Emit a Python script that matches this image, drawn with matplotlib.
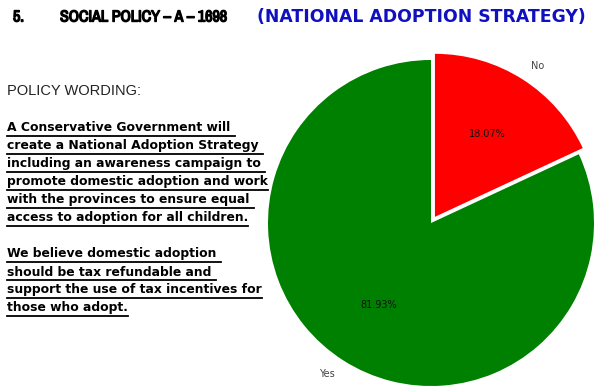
import matplotlib
matplotlib.use("Agg")
import matplotlib.pyplot as plt
from matplotlib.lines import Line2D
import matplotlib.patheffects as pe

categories = ["Yes", "No"]
values = [81.93, 18.07]
colors = ["#008000", "#ff0000"]
explode = [0, 0.045]

title_num = "5."
title_main = "SOCIAL POLICY \u2013 A \u2013 1698"
title_sub = "(NATIONAL ADOPTION STRATEGY)"
heading = "POLICY WORDING:"
para1 = ["A Conservative Government will ",
         "create a National Adoption Strategy ",
         "including an awareness campaign to ",
         "promote domestic adoption and work",
         "with the provinces to ensure equal ",
         "access to adoption for all children."]
para2 = ["We believe domestic adoption ",
         "should be tax refundable and ",
         "support the use of tax incentives for",
         "those who adopt."]

W, H = 597, 392
fig = plt.figure(figsize=(W / 100, H / 100), dpi=100)
fig.patch.set_facecolor("white")

# pie axes: centre (431, 223), radius ~163 px
R = 163
cx, cy = 431, 223
ax = fig.add_axes([(cx - R) / W, 1 - (cy + R) / H, 2 * R / W, 2 * R / H])
wedges, texts, autotexts = ax.pie(values, labels=categories, colors=colors,
                                  explode=explode, startangle=90,
                                  autopct="%1.2f%%", pctdistance=0.6,
                                  labeldistance=1.1,
                                  wedgeprops=dict(linewidth=0),
                                  textprops=dict(fontsize=7, color="#111111"))
for t in texts:
    t.set_color("#444444")
ax.set_xlim(-1, 1)
ax.set_ylim(-1, 1)
ax.set_aspect("auto")
ax.axis("off")

def px(x, y):
    return x / W, 1 - y / H

renderer = fig.canvas.get_renderer()

def fit_text(x, y, s, width, size, **kw):
    t = fig.text(*px(x, y), s, fontsize=size, va="center", ha="left", **kw)
    bb = t.get_window_extent(renderer)
    t.set_fontsize(size * width / bb.width)
    return t

narrow = ["Archivo Narrow", "Liberation Sans"]
bold_fx = [pe.withStroke(linewidth=1.0, foreground="black")]
tm = fit_text(60, 17, title_main, 167, 13, fontweight="bold", family=narrow,
              path_effects=bold_fx)
fig.text(*px(13, 17), title_num, fontsize=tm.get_fontsize(), fontweight="bold",
         family=narrow, va="center", ha="left", path_effects=bold_fx)
fit_text(257, 17, title_sub, 328, 12, fontweight="bold",
         family="DejaVu Sans", color="#1010c0")

fit_text(7, 91, heading, 134, 10, family="Liberation Sans", color="#222222")

def draw_lines(lines, y0, step=18):
    for i, s in enumerate(lines):
        y = y0 + i * step
        t = fig.text(*px(7, y), s, fontsize=8.9, fontweight="bold",
                     family="DejaVu Sans", color="black", va="center", ha="left")
        bb = t.get_window_extent(renderer)
        x1 = bb.x1 / W
        fig.add_artist(Line2D([7 / W, x1], [1 - (y + 8) / H] * 2,
                              color="black", linewidth=1.3,
                              transform=fig.transFigure))

draw_lines(para1, 128)
draw_lines(para2, 254)

fig.savefig("out.png", dpi=100, facecolor="white")
